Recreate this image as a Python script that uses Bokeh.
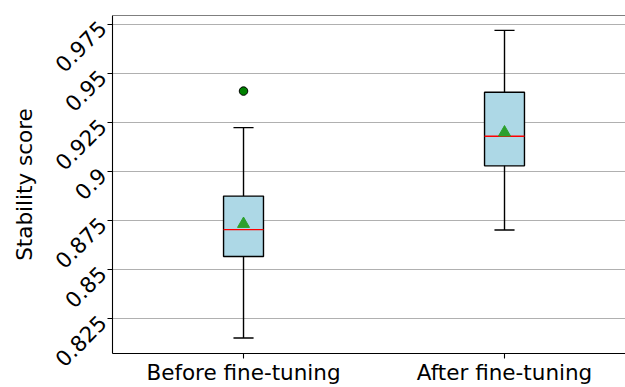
import math
from bokeh.plotting import figure
from bokeh.models import FixedTicker, Span, Range1d, CustomJSTickFormatter
from bokeh.embed import file_html
from bokeh.resources import INLINE

# ---- data ----
categories = ["Before fine-tuning", "After fine-tuning"]
positions = [1, 2]
whisker_low = [0.8153, 0.8703]
q1 = [0.8568, 0.9030]
medians = [0.8705, 0.9181]
q3 = [0.8876, 0.9405]
whisker_high = [0.9225, 0.9720]
means = [0.8734, 0.9200]
outlier_pos = [1]
outlier_vals = [0.9411]
ytick_values = [0.825, 0.85, 0.875, 0.9, 0.925, 0.95, 0.975]
ytick_labels = ["0.825", "0.85", "0.875", "0.9", "0.925", "0.95", "0.975"]

# ---- styling ----
FONT = "DejaVu Sans"
FS = "21.5px"
box_w = 0.153
cap_w = 0.077
xmin, xmax = 0.498, 2.4636
ymin, ymax = 0.8074, 0.9796

p = figure(width=625, height=387, output_backend="svg", toolbar_location=None,
           x_range=Range1d(xmin, xmax), y_range=Range1d(ymin, ymax),
           min_border_left=112, min_border_top=15, min_border_right=0,
           min_border_bottom=34)
p.outline_line_color = None
p.background_fill_color = "white"
p.border_fill_color = "white"

# boxes
p.vbar(x=positions, width=box_w, bottom=q1, top=q3,
       fill_color="#add8e6", line_color="black", line_width=1.4)
# whiskers
p.segment(x0=positions, y0=whisker_low, x1=positions, y1=q1,
          line_color="black", line_width=1.4)
p.segment(x0=positions, y0=q3, x1=positions, y1=whisker_high,
          line_color="black", line_width=1.4)
# caps
cap_l = [x - cap_w / 2 for x in positions]
cap_r = [x + cap_w / 2 for x in positions]
p.segment(x0=cap_l, y0=whisker_low, x1=cap_r, y1=whisker_low,
          line_color="black", line_width=1.4)
p.segment(x0=cap_l, y0=whisker_high, x1=cap_r, y1=whisker_high,
          line_color="black", line_width=1.4)
# medians
med_l = [x - box_w / 2 for x in positions]
med_r = [x + box_w / 2 for x in positions]
p.segment(x0=med_l, y0=medians, x1=med_r, y1=medians,
          line_color="red", line_width=1.4)
# means
p.scatter(x=positions, y=means, marker="triangle", size=12,
          fill_color="#2ca02c", line_color="#2ca02c")
# outliers
p.scatter(x=outlier_pos, y=outlier_vals, marker="circle", size=8.5,
          fill_color="green", line_color="black", line_width=1)

# top spine (right side is cut off in the reference)
p.add_layout(Span(location=ymax, dimension="width", line_color="black",
                  line_width=1.1))

# axes
xa = p.xaxis[0]
xa.ticker = FixedTicker(ticks=positions)
xa.major_label_overrides = dict(zip(positions, categories))
xa.major_label_standoff = 1

ya = p.yaxis[0]
ya.ticker = FixedTicker(ticks=ytick_values)
ya.formatter = CustomJSTickFormatter(
    args=dict(vals=ytick_values, labels=ytick_labels), code="""
    let b = 0;
    for (let i = 0; i < vals.length; i++) {
        if (Math.abs(vals[i] - tick) < Math.abs(vals[b] - tick)) b = i;
    }
    return labels[b];
""")
ya.major_label_orientation = math.pi / 4
ya.major_label_standoff = 5
ya.axis_label = "Stability score"
ya.axis_label_standoff = 8

for ax in (xa, ya):
    ax.axis_line_color = "black"
    ax.axis_line_width = 1.1
    ax.major_tick_line_color = "black"
    ax.major_tick_line_width = 1.1
    ax.major_tick_out = 5
    ax.major_tick_in = 0
    ax.minor_tick_line_color = None
    ax.major_label_text_font = FONT
    ax.major_label_text_font_size = FS
    ax.major_label_text_color = "black"
    ax.axis_label_text_font = FONT
    ax.axis_label_text_font_size = FS
    ax.axis_label_text_font_style = "normal"
    ax.axis_label_text_color = "black"

p.xgrid.grid_line_color = None
p.ygrid.grid_line_color = "#b0b0b0"
p.ygrid.grid_line_width = 1.1

open("out.html", "w").write(file_html(p, INLINE))
